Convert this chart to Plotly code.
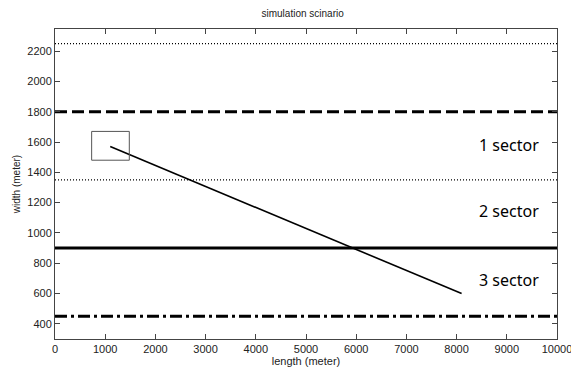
import plotly.graph_objects as go

# boundary lines (width in meters)
boundary_y = [2250, 1800, 1350, 900, 450]
boundary_dash = ["1px,2px", "12px,5px", "1px,2px", "solid", "12px,4px,3px,4px"]
boundary_w = [1.3, 3, 1.3, 3, 3]

# path of the moving object
path_x = [1100, 8100]
path_y = [1570, 600]

# start box
box_x = [730, 1480, 1480, 730, 730]
box_y = [1480, 1480, 1670, 1670, 1480]

# sector labels
label_text = ["1 sector", "2 sector", "3 sector"]
label_x = [9050, 9050, 9050]
label_y = [1580, 1145, 690]

x_ticks = list(range(0, 10001, 1000))
x_tick_labels = [str(v) for v in x_ticks]
y_ticks = list(range(400, 2201, 200))
y_tick_labels = [str(v) for v in y_ticks]

fig = go.Figure()
for y, d, w in zip(boundary_y, boundary_dash, boundary_w):
    fig.add_trace(go.Scatter(x=[0, 10000], y=[y, y], mode="lines",
                             line=dict(color="black", width=w, dash=d),
                             showlegend=False, hoverinfo="skip"))
fig.add_trace(go.Scatter(x=path_x, y=path_y, mode="lines",
                         line=dict(color="black", width=1.6), showlegend=False))
fig.add_trace(go.Scatter(x=box_x, y=box_y, mode="lines",
                         line=dict(color="#555555", width=1), showlegend=False))

for t, x, y in zip(label_text, label_x, label_y):
    fig.add_annotation(x=x, y=y, text=t, showarrow=False, xref="x", yref="y",
                       font=dict(family="Noto Sans", size=16, color="black"))

axis_common = dict(showline=True, linecolor="#444444", linewidth=1, mirror="ticks",
                   ticks="inside", ticklen=5, tickcolor="#444444", showgrid=False,
                   zeroline=False, automargin=False, ticklabeloverflow="allow",
                   tickfont=dict(family="Liberation Sans", size=11, color="#222222"))

fig.update_layout(
    width=571, height=374,
    margin=dict(l=55, r=14, t=29, b=35),
    paper_bgcolor="white", plot_bgcolor="white",
    title=dict(text="simulation scinario", x=0.53, xanchor="center", y=0.965, yanchor="middle",
               font=dict(family="Liberation Sans", size=10, color="#222222")),
    xaxis=dict(range=[0, 10000], tickvals=x_ticks, ticktext=x_tick_labels,
               title=dict(text="length (meter)", standoff=2,
                          font=dict(family="Liberation Sans", size=11, color="#222222")),
               **axis_common),
    yaxis=dict(range=[300, 2346], tickvals=y_ticks, ticktext=y_tick_labels,
               title=dict(text="width (meter)", standoff=4,
                          font=dict(family="Liberation Sans", size=10, color="#222222")),
               **axis_common),
)

fig.write_html("out.html")
